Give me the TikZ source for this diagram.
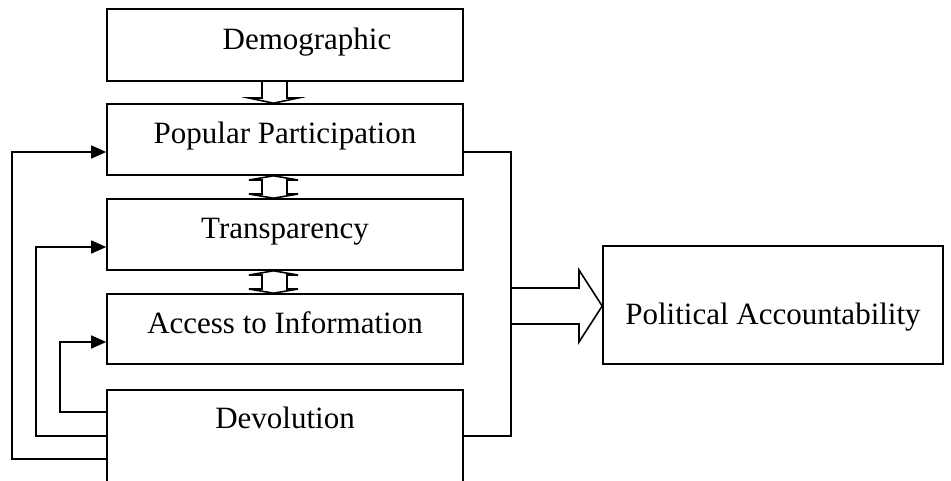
\documentclass[tikz,border=0pt]{standalone}
\usepackage{fontspec}
\setmainfont{Liberation Serif}
\usetikzlibrary{calc,arrows.meta}
\begin{document}
\begin{tikzpicture}[x=1pt,y=-1pt,line width=1.6pt,
  box/.style={draw,rectangle,minimum width=356pt,inner sep=0pt,
    text height=20pt,text depth=12pt,font=\fontsize{31}{37}\selectfont},
  conn/.style={-{Triangle[length=15pt,width=13pt]},line join=miter},
  blk/.style={line join=miter}]
\useasboundingbox (0,0) rectangle (951,480);
\clip (0,0) rectangle (951,480);
%boxes
\node[box,minimum height=72pt] (demo) at (285,45) {\hspace*{44pt}Demographic};
\node[box,minimum height=71pt] (pp) at (285,139.5) {Popular Participation};
\node[box,minimum height=71pt] (tr) at (285,234.5) {Transparency};
\node[box,minimum height=70pt] (acc) at (285,329) {Access to Information};
\node[box,anchor=north,text height=39pt,text depth=110pt] (dev) at (285,389) {Devolution};
\node[box,minimum width=340pt,minimum height=118pt,text height=40pt,text depth=2pt]
  (pa) at (773,305) {Political Accountability};
%block arrows
\draw[blk] (262,81) -- (262,98) -- (249,98) -- (pp.north-|273.5,0)
  -- (298,98) -- (287,98) -- (287,81);
\draw[blk] (pp.south-|273.5,0) -- (298,180) -- (287,180) -- (287,194) -- (298,194)
  -- (tr.north-|273.5,0) -- (249,194) -- (262,194) -- (262,180) -- (249,180) -- cycle;
\draw[blk] (tr.south-|273.5,0) -- (298,275) -- (287,275) -- (287,289) -- (298,289)
  -- (acc.north-|273.5,0) -- (249,289) -- (262,289) -- (262,275) -- (249,275) -- cycle;
%to accountability
\draw ([yshift=-12.5pt]pp.east) -- ++(47,0) |- (dev.east|-0,436);
\draw[blk] (510,288) -- (579,288) -- (579,270) -- ([yshift=-1pt]pa.west)
  -- (579,342) -- (579,324) -- (510,324);
%feedback from devolution
\draw[conn] (dev.west|-0,459) -- (12,459) |- ([yshift=-12.5pt]pp.west);
\draw[conn] (dev.west|-0,436) -- (36,436) |- ([yshift=-12.5pt]tr.west);
\draw[conn] (dev.west|-0,412) -- (60,412) |- ([yshift=-13pt]acc.west);
\end{tikzpicture}
\end{document}
